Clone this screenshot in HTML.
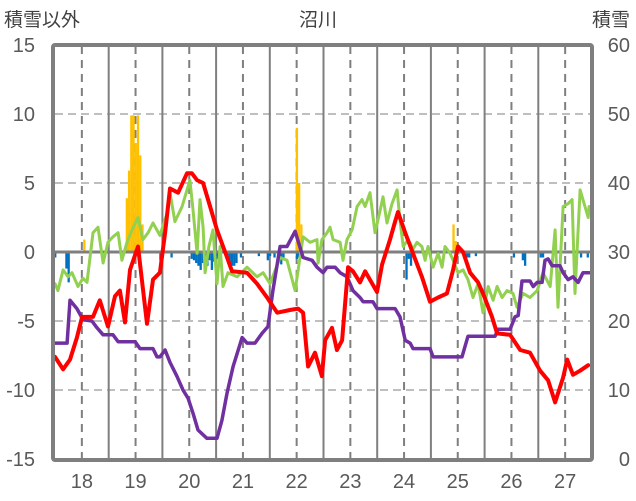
<!DOCTYPE html>
<html><head><meta charset="utf-8"><style>
body{margin:0;background:#fff;}
svg{display:block;font-family:"Liberation Sans","Noto Sans CJK JP",sans-serif;}
</style></head><body>
<svg id="chart" width="636" height="501" viewBox="0 0 636 501" xmlns="http://www.w3.org/2000/svg">
<text x="318" y="26" text-anchor="middle" font-size="19" fill="#404040">沼川</text>
<text x="4" y="26" font-size="19" fill="#404040">積雪以外</text>
<text x="630" y="26" text-anchor="end" font-size="19" fill="#404040">積雪</text>
<g id="grid"></g>
<g id="bars"></g>
<g id="lines"></g>
<rect x="53" y="45" width="539" height="415" rx="2" fill="none" stroke="#7f7f7f" stroke-width="4"/>
<g id="ticks"></g>
</svg>
<script>
const leftTicks=[15,10,5,0,-5,-10,-15];
const rightTicks=[60,50,40,30,20,10,0];
const dayLabels=["18","19","20","21","22","23","24","25","26","27"];
const orangeHours=[13,32,33,34,35,36,37,38,39,108,109,110,178,179];
const orangeVals=[0.9,3.9,5.9,9.9,9.9,7.9,9.9,7.0,2.0,9.0,5.0,2.0,2.0,0.8];
const blueHours=[0,5,6,47,52,61,62,63,64,65,66,67,68,69,70,71,72,73,77,78,79,80,81,83,91,95,96,98,101,102,108,109,157,158,159,184,185,188,205,209,210,217,218,235,238];
const blueVals=[-0.4,-1.2,-2.2,-0.6,-0.4,-0.5,-0.6,-0.8,-1.0,-1.3,-0.8,-1.3,-1.0,-0.6,-1.3,-0.7,-0.5,-0.6,-0.5,-0.8,-1.0,-1.0,-0.8,-0.4,-0.3,-0.6,-0.3,-0.4,-0.9,-0.5,-0.5,-0.4,-2.0,-0.5,-1.0,-0.4,-0.4,-0.3,-0.4,-0.6,-1.0,-0.4,-0.4,-0.4,-0.4];
const greenHours=[0,1.3,3.6,5.8,7.6,10.3,12.5,14.3,17,19.2,21.5,23.7,25.9,28.2,29.9,32.2,34.4,37.1,39.3,41.6,43.8,46.9,50.1,51.4,53.6,56.8,59,60.3,61.7,63.5,64.8,66.2,67.1,68.8,70.6,72.4,73.8,75.1,77.3,81.4,85.8,90.3,93,96.1,100.6,103.7,107.3,109.5,110.9,114,117.1,117.6,119.3,121.6,122.9,124.3,127.4,128.7,130.5,132.8,135,137.2,138.6,140.8,143,145.3,146.6,148.4,150.6,152.9,154.2,155.6,157.8,160,161.8,164,165.4,166.7,169,171.2,173,174.3,176.6,177.9,180.1,182.4,184.6,186.8,189.1,191.3,193.6,195.8,197.6,199.8,202,204.7,206.5,209.2,212.3,215.5,218.1,221.3,223.5,224.8,227.1,229.3,231.1,232.4,234.7,238.3,238.7];
const greenVals=[-2.3,-2.8,-1.3,-1.8,-1.5,-2.5,-1.9,-2.2,1.4,1.8,-0.8,0.7,1.1,1.4,-0.6,0.7,1.6,2.5,0.9,1.4,2.1,1.2,2.8,4.3,2.2,3.3,4.5,5.2,3.0,-0.1,3.8,1.8,-1.5,0.4,1.6,-2.3,0.4,-2.5,-1.5,-1.8,-1.1,-1.8,-1.5,-2.3,-0.4,-0.6,-2.8,-0.4,1.1,0.7,0.9,-0.8,0.9,1.4,1.8,0.9,0.7,-0.6,0.9,1.6,3.3,3.8,3.3,4.3,1.4,3.0,4.0,2.1,3.5,4.5,2.3,0.4,0.9,0.2,0.7,0.4,-0.6,0.4,-1.1,-0.1,-1.1,0.4,-0.1,-0.6,-1.5,-1.3,-2.0,-3.3,-2.3,-4.4,-2.5,-3.5,-2.5,-3.3,-2.8,-3.0,-4.0,-3.0,-3.3,-2.8,-1.5,-2.5,1.6,-4.0,3.3,3.5,3.8,-3.0,4.5,2.5,3.3];
const redHours=[0,3.6,6.7,9.8,12.1,17,20,23.7,26.8,29,31.3,33.5,37.1,41.1,43.8,46.9,49.2,51.4,55,59,61.2,63.5,66.2,69.3,72.4,76.9,79.1,85.8,90.3,94.8,99.3,105,108.6,110.9,113.1,116.2,119.3,120.7,123.8,126,128.3,131,133.2,136.3,138.6,143.9,146.2,149.7,152,153.3,156.5,160,164,167.6,171.2,175.2,177.9,180.1,182.4,185.5,189.1,191.3,195.3,197.6,203.4,207.9,212.3,216.8,220.4,223.5,227.1,228.9,231.5,234.7,238.3];
const redVals=[-7.6,-8.5,-7.8,-6.2,-4.7,-4.7,-3.5,-5.4,-3.2,-2.8,-5.1,-1.3,0.4,-5.2,-2.0,-1.5,1.4,4.6,4.3,5.7,5.7,5.2,5.0,3.3,1.6,-0.4,-1.4,-1.5,-2.3,-3.3,-4.4,-4.2,-4.1,-4.4,-8.3,-7.3,-9.0,-6.4,-5.5,-7.1,-6.4,-1.1,-1.4,-2.2,-1.4,-2.9,-0.9,0.9,2.2,2.9,1.4,-0.1,-1.8,-3.6,-3.3,-3.0,-1.3,0.4,0,-1.5,-2.2,-3.0,-4.7,-5.9,-6.0,-7.1,-7.3,-8.6,-9.3,-10.9,-9.1,-7.8,-8.9,-8.6,-8.2];
const purpleHours=[0,5.4,6.7,9.8,12.5,16.5,18.8,21.5,25.9,28.2,35.8,38,43.8,45.6,46.9,49.2,51.4,54.5,57.2,59.5,61.7,63.9,67.9,72.4,74.6,76.9,79.6,83.6,85.8,89.4,92.5,95.2,97.4,100.6,103.7,107.3,110.9,114.9,117.1,119.8,121.6,125.2,127.4,130.5,133.2,136.3,137.7,142.1,143.9,152,154.2,156.5,158.7,160,167.6,169,181.9,184.6,196.7,198,203.4,205.6,207,208.7,212.3,213.7,215.5,217.7,219,220.4,222.2,225.7,227.1,229.3,231.5,233.8,236,238.7];
const purpleVals=[-6.6,-6.6,-3.5,-4.1,-4.9,-5.0,-5.5,-6.0,-6.0,-6.5,-6.5,-7.0,-7.0,-7.6,-7.6,-7.1,-8.0,-9.0,-10,-10.6,-11.7,-12.9,-13.5,-13.5,-12.2,-10.2,-8.3,-6.2,-6.6,-6.6,-5.9,-5.4,-2.8,0.4,0.4,1.5,-0.4,-0.6,-1.1,-1.5,-1.1,-1.1,-1.5,-1.8,-2.8,-3.3,-3.6,-3.6,-4.1,-4.1,-4.7,-6.4,-6.6,-7.0,-7.0,-7.6,-7.6,-6.1,-6.1,-5.6,-5.6,-4.7,-4.6,-2.1,-2.1,-2.5,-2.2,-2.2,-0.6,-0.5,-1.0,-1.0,-1.5,-2.0,-1.8,-2.2,-1.5,-1.5];

const NS="http://www.w3.org/2000/svg";
const X0=55, PXH=2.2375, Y0=252, PXV=13.8;
function xs(h){return X0+h*PXH;}
function ys(v){return Y0-v*PXV;}
function mk(tag,attrs,parent){const e=document.createElementNS(NS,tag);for(const k in attrs)e.setAttribute(k,attrs[k]);parent.appendChild(e);return e;}
const grid=document.getElementById('grid'), bars=document.getElementById('bars'), lines=document.getElementById('lines'), ticks=document.getElementById('ticks');

leftTicks.forEach(v=>{
  if(v===0||Math.abs(v)===15)return;
  const l=mk('line',{x1:55,x2:591,y1:ys(v),y2:ys(v),stroke:'#bfbfbf','stroke-width':2,'stroke-dasharray':'8,5'},grid);
  
  
});
for(let d=0;d<=10;d++){
  const xm=xs(d*24);
  if(d>0&&d<11&&xm<590){
    const l=mk('line',{x1:xm,x2:xm,y1:46,y2:459,stroke:'#7f7f7f','stroke-width':2},grid);
    
    
  }
  if(d<10){
    const xn=xs(d*24+12);
    const l2=mk('line',{x1:xn,x2:xn,y1:46,y2:459,stroke:'#7f7f7f','stroke-width':2,'stroke-dasharray':'8,6'},grid);
    
    
  }
}
orangeHours.forEach((h,i)=>{
  const v=orangeVals[i];
  const r=mk('rect',{x:xs(h)-0.9,y:ys(v),width:2.3,height:ys(0)-ys(v),fill:'#ffc000'},bars);
  
  
});
blueHours.forEach((h,i)=>{
  const v=blueVals[i];
  const r=mk('rect',{x:xs(h)-0.9,y:ys(0),width:2.3,height:ys(v)-ys(0),fill:'#0070c0'},bars);
  
  
});
const z=mk('line',{x1:55,x2:591,y1:ys(0),y2:ys(0),stroke:'#7f7f7f','stroke-width':3},bars);



function series(hs,vs,color,w,name){
  const d=hs.map((h,i)=>(i?'L':'M')+xs(h).toFixed(1)+','+ys(vs[i]).toFixed(1)).join('');
  const p=mk('path',{d:d,fill:'none',stroke:color,'stroke-width':w,'stroke-linejoin':'round','stroke-linecap':'round'},lines);
  
  
}
series(greenHours,greenVals,'#92d050',3,'green-series-line');
series(purpleHours,purpleVals,'#7030a0',3.5,'purple-series-line');
series(redHours,redVals,'#ff0000',4,'red-series-line');

leftTicks.forEach(v=>{
  const t=mk('text',{x:35,y:ys(v)+7,'text-anchor':'end','font-size':20,fill:'#595959'},ticks);
  t.textContent=String(v);
  
  
});
rightTicks.forEach((v,i)=>{
  const t=mk('text',{x:630,y:45+i*69+7,'text-anchor':'end','font-size':20,fill:'#595959'},ticks);
  t.textContent=String(v);
  
  
});
dayLabels.forEach((s,i)=>{
  const t=mk('text',{x:xs(i*24+12),y:488,'text-anchor':'middle','font-size':20,fill:'#595959'},ticks);
  t.textContent=s;
  
  
});
</script>
</body></html>
